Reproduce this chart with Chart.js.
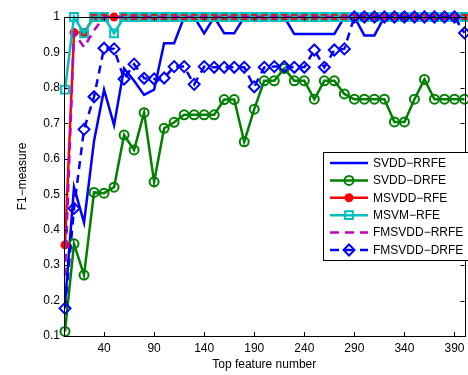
<!DOCTYPE html>
<html>
<head>
<meta charset="utf-8">
<script src="https://cdn.jsdelivr.net/npm/chart.js@4.4.1/dist/chart.umd.min.js"></script>
<style>
  html, body { margin: 0; padding: 0; background: #fff; overflow: hidden; }
  canvas { display: block; }
</style>
</head>
<body>
<canvas id="f1Chart" width="472" height="375"></canvas>
<script>
// ==================== DATA ====================
const featureNums = [1, 10, 20, 30, 40, 50, 60, 70, 80, 90, 100, 110, 120, 130, 140, 150, 160, 170, 180, 190,
  200, 210, 220, 230, 240, 250, 260, 270, 280, 290, 300, 310, 320, 330, 340, 350, 360, 370, 380, 390, 400];

const svddRrfe = [0.19, 0.52, 0.42, 0.65, 0.795, 0.695, 0.855, 0.82, 0.78, 0.795, 0.926, 0.926, 1, 1, 0.954, 1, 0.954, 0.954, 1, 1,
  1, 1, 1, 0.952, 0.952, 0.952, 0.952, 0.952, 1, 1, 0.948, 0.948, 1, 1, 1, 1, 1, 1, 1, 1, 1];

const svddDrfe = [0.113, 0.36, 0.272, 0.505, 0.503, 0.52, 0.667, 0.625, 0.73, 0.535, 0.686, 0.703, 0.724, 0.724, 0.724, 0.724, 0.767, 0.767, 0.648, 0.74,
  0.82, 0.82, 0.855, 0.82, 0.82, 0.768, 0.82, 0.82, 0.783, 0.768, 0.768, 0.768, 0.768, 0.704, 0.704, 0.768, 0.824, 0.768, 0.768, 0.768, 0.768];

const msvddRfe = [0.357, 0.956, 0.956, 1, 1, 1, 1, 1, 1, 1, 1, 1, 1, 1, 1, 1, 1, 1, 1, 1,
  1, 1, 1, 1, 1, 1, 1, 1, 1, 1, 1, 1, 1, 1, 1, 1, 1, 1, 1, 1, 1];

const msvmRfe = [0.795, 1, 0.954, 1, 1, 0.954, 1, 1, 1, 1, 1, 1, 1, 1, 1, 1, 1, 1, 1, 1,
  1, 1, 1, 1, 1, 1, 1, 1, 1, 1, 1, 1, 1, 1, 1, 1, 1, 1, 1, 1, 1];

const fmsvddRrfe = [0.27, 0.955, 0.915, 0.962, 1, 1, 1, 1, 1, 1, 1, 1, 1, 1, 1, 1, 1, 1, 1, 1,
  1, 1, 1, 1, 1, 1, 1, 1, 1, 1, 1, 1, 1, 1, 1, 1, 1, 1, 1, 1, 1];

const fmsvddDrfe = [0.178, 0.46, 0.683, 0.775, 0.912, 0.91, 0.825, 0.867, 0.827, 0.825, 0.828, 0.86, 0.86, 0.81, 0.86, 0.858, 0.858, 0.858, 0.858, 0.803,
  0.858, 0.86, 0.86, 0.858, 0.858, 0.907, 0.858, 0.907, 0.91, 1, 1, 1, 1, 1, 1, 1, 1, 1, 1, 1, 0.955];

const xTickValues = [40, 90, 140, 190, 240, 290, 340, 390];
const yTickValues = [0.1, 0.2, 0.3, 0.4, 0.5, 0.6, 0.7, 0.8, 0.9, 1];

// ==================== STYLE ====================
const FONT = "'Liberation Sans', Arial, Helvetica, sans-serif";
const series = [
  { label: 'SVDD−RRFE',   values: svddRrfe,   color: '#0000ff', dash: [],     style: false,     radius: 0,   fill: false },
  { label: 'SVDD−DRFE',   values: svddDrfe,   color: '#008000', dash: [],     style: 'circle',  radius: 4.5, fill: false },
  { label: 'MSVDD−RFE',   values: msvddRfe,   color: '#ff0000', dash: [],     style: 'circle',  radius: 3.5, fill: true },
  { label: 'MSVM−RFE',    values: msvmRfe,    color: '#00bfbf', dash: [],     style: 'rect',    radius: 5.5, fill: false },
  { label: 'FMSVDD−RRFE', values: fmsvddRrfe, color: '#bf00bf', dash: [8, 6], style: false,     radius: 0,   fill: false },
  { label: 'FMSVDD−DRFE', values: fmsvddDrfe, color: '#0000ff', dash: [8, 6], style: 'rectRot', radius: 5.5, fill: false }
];

const datasets = series.map((s, i) => ({
  label: s.label,
  data: featureNums.map((x, j) => ({ x: x, y: s.values[j] })),
  borderColor: s.color,
  borderWidth: 2.5,
  borderDash: s.dash,
  tension: 0,
  fill: false,
  clip: false,
  order: series.length - i,
  pointStyle: s.style || 'circle',
  pointRadius: s.radius,
  pointBorderWidth: 2,
  pointBorderColor: s.color,
  pointBackgroundColor: s.fill ? s.color : 'rgba(0,0,0,0)'
}));

// ==================== PLUGINS ====================
function drawMarker(ctx, s, x, y) {
  if (!s.style) return;
  ctx.save();
  ctx.setLineDash([]);
  ctx.lineWidth = 2;
  ctx.strokeStyle = s.color;
  ctx.fillStyle = s.fill ? s.color : '#fff';
  ctx.beginPath();
  const r = s.radius;
  if (s.style === 'circle') {
    ctx.arc(x, y, r, 0, Math.PI * 2);
  } else if (s.style === 'rect') {
    const h = r * Math.SQRT1_2;
    ctx.rect(x - h, y - h, 2 * h, 2 * h);
  } else if (s.style === 'rectRot') {
    ctx.moveTo(x, y - r); ctx.lineTo(x + r, y); ctx.lineTo(x, y + r); ctx.lineTo(x - r, y); ctx.closePath();
  }
  if (s.fill) ctx.fill();
  ctx.stroke();
  ctx.restore();
}

const framePlugin = {
  id: 'frame',
  afterDraw(chart) {
    const { ctx, chartArea: a, scales } = chart;
    const tick = 4;
    ctx.save();
    ctx.strokeStyle = '#000';
    ctx.lineWidth = 1;
    ctx.setLineDash([]);
    ctx.strokeRect(Math.round(a.left) + 0.5, Math.round(a.top) + 0.5, Math.round(a.right - a.left), Math.round(a.bottom - a.top));
    ctx.beginPath();
    xTickValues.forEach(v => {
      const px = Math.round(scales.x.getPixelForValue(v)) + 0.5;
      ctx.moveTo(px, a.bottom); ctx.lineTo(px, a.bottom - tick);
      ctx.moveTo(px, a.top); ctx.lineTo(px, a.top + tick);
    });
    yTickValues.forEach(v => {
      const py = Math.round(scales.y.getPixelForValue(v)) + 0.5;
      ctx.moveTo(a.left, py); ctx.lineTo(a.left + tick, py);
      ctx.moveTo(a.right, py); ctx.lineTo(a.right - tick, py);
    });
    ctx.stroke();

    // legend box
    const box = { left: 323, top: 152, right: 480, bottom: 260 };
    const rowY0 = 163, rowGap = 17.4, lineX0 = 330, lineX1 = 368, textX = 373;
    ctx.fillStyle = '#fff';
    ctx.fillRect(box.left, box.top, box.right - box.left, box.bottom - box.top);
    ctx.strokeRect(box.left + 0.5, box.top + 0.5, box.right - box.left, box.bottom - box.top);
    ctx.font = '12px ' + FONT;
    ctx.textBaseline = 'middle';
    series.forEach((s, i) => {
      const y = rowY0 + i * rowGap;
      ctx.save();
      ctx.strokeStyle = s.color;
      ctx.lineWidth = 2.5;
      ctx.setLineDash(s.dash.length ? [9, 6] : []);
      ctx.beginPath();
      ctx.moveTo(lineX0, y); ctx.lineTo(lineX1, y);
      ctx.stroke();
      ctx.restore();
      drawMarker(ctx, s, (lineX0 + lineX1) / 2, y);
      ctx.fillStyle = '#000';
      ctx.fillText(s.label, textX, y + 0.5);
    });
    ctx.restore();
  }
};

// ==================== CHART ====================
new Chart(document.getElementById('f1Chart'), {
  type: 'line',
  data: { datasets },
  options: {
    responsive: false,
    animation: false,
    events: [],
    layout: { padding: { top: 17, right: 2, left: 0, bottom: 0 } },
    plugins: { legend: { display: false }, tooltip: { enabled: false } },
    scales: {
      x: {
        type: 'linear',
        min: 0,
        max: 400,
        afterFit: s => { s.height = 39; },
        afterBuildTicks: s => { s.ticks = xTickValues.map(v => ({ value: v })); },
        grid: { display: false, drawTicks: false },
        border: { display: false },
        ticks: { padding: 5, color: '#000', font: { family: FONT, size: 12 }, maxRotation: 0, autoSkip: false },
        title: { display: true, text: 'Top feature number', color: '#000', font: { family: FONT, size: 12 }, padding: { top: 0, bottom: 3 } }
      },
      y: {
        min: 0.1,
        max: 1,
        afterFit: s => { s.width = 64; },
        afterBuildTicks: s => { s.ticks = yTickValues.map(v => ({ value: v })); },
        grid: { display: false, drawTicks: false },
        border: { display: false },
        ticks: { padding: 4, color: '#000', font: { family: FONT, size: 12 }, callback: v => String(+v.toFixed(1)) },
        title: { display: true, text: 'F1−measure', color: '#000', font: { family: FONT, size: 12 }, padding: { top: 15, bottom: 0 } }
      }
    }
  },
  plugins: [framePlugin]
});
</script>
</body>
</html>
